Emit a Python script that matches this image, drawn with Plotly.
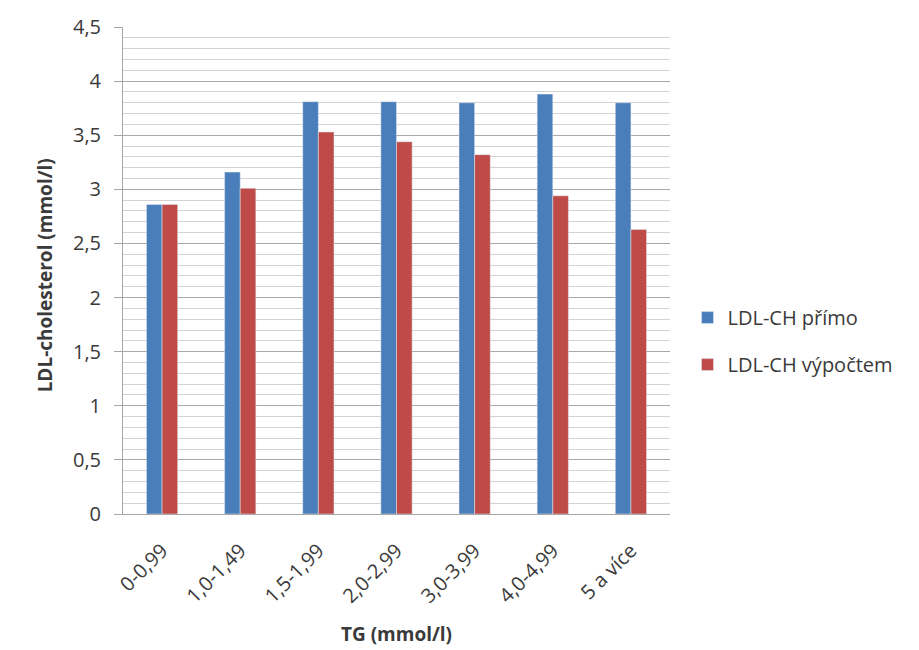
import plotly.graph_objects as go

categories = ["0-0,99", "1,0-1,49", "1,5-1,99", "2,0-2,99", "3,0-3,99", "4,0-4,99", "5 a více"]
ldl_primo = [2.86, 3.16, 3.81, 3.81, 3.80, 3.88, 3.80]
ldl_vypoctem = [2.86, 3.01, 3.53, 3.44, 3.32, 2.94, 2.63]
series_names = ["LDL-CH přímo", "LDL-CH výpočtem"]
y_ticks = [0, 0.5, 1, 1.5, 2, 2.5, 3, 3.5, 4, 4.5]
y_tick_labels = ["0", "0,5", "1", "1,5", "2", "2,5", "3", "3,5", "4", "4,5"]
x_title = "TG (mmol/l)"
y_title = "LDL-cholesterol (mmol/l)"

FONT = "'Open Sans', sans-serif"
TXT = "#3a3a3a"

fig = go.Figure()
fig.add_bar(x=categories, y=ldl_primo, name=series_names[0], marker_color="#4a7ebb",
            legendgroup="a")
fig.add_bar(x=categories, y=ldl_vypoctem, name=series_names[1], marker_color="#be4b48",
            legendgroup="b")

fig.update_layout(
    width=919, height=650,
    margin=dict(l=115, r=257, t=19, b=144, autoexpand=False),
    paper_bgcolor="white", plot_bgcolor="white",
    barmode="group", bargap=0.60, bargroupgap=0,
    font=dict(family=FONT, size=20, color=TXT),
    legend=dict(x=1.032, y=0.355, xanchor="left", yanchor="middle",
                font=dict(size=20, color=TXT), tracegroupgap=18,
                itemwidth=30, bgcolor="rgba(0,0,0,0)"),
    showlegend=True,
)
fig.add_annotation(
    text="<b>" + y_title + "</b>", textangle=-90,
    xref="paper", yref="paper", x=0, y=0.49, xanchor="center", yanchor="middle",
    xshift=-78, showarrow=False, font=dict(size=19, color=TXT),
)
fig.update_xaxes(
    tickangle=-45, showline=True, linecolor="#a6a6a6", linewidth=1,
    showgrid=False, ticks="", tickfont=dict(size=20, color=TXT),
    ticklabelstandoff=16,
    title=dict(text="<b>" + x_title + "</b>", font=dict(size=19, color=TXT), standoff=20),
)
fig.update_yaxes(
    range=[0, 4.5], tickvals=y_ticks, ticktext=y_tick_labels,
    showline=True, linecolor="#a6a6a6", linewidth=1,
    ticks="outside", ticklen=8, tickcolor="#a6a6a6",
    ticklabelstandoff=9,
    showgrid=True, gridcolor="#a8a8a8", gridwidth=1,
    minor=dict(dtick=0.1, showgrid=True, gridcolor="#d2d2d2", gridwidth=1),
    tickfont=dict(size=20, color=TXT), zeroline=False,
)

fig.write_html("out.html")
